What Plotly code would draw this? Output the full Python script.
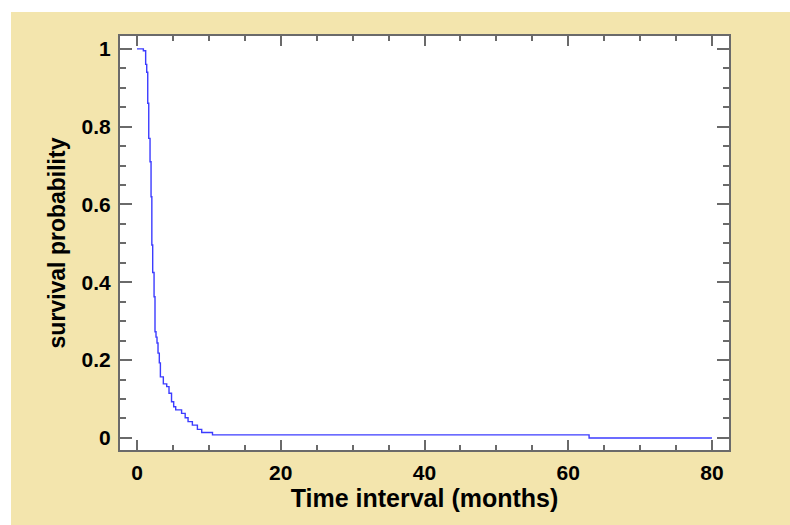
import plotly.graph_objects as go

# Kaplan-Meier step curve
time_months = [0, 0.88, 1.2, 1.35, 1.49, 1.63, 1.81, 1.95, 2.06, 2.18, 2.37, 2.5, 2.64,
               2.78, 2.92, 3.1, 3.25, 3.66, 4.13, 4.45, 4.8, 5.1, 5.38, 6.2, 6.7,
               7.1, 7.7, 8.4, 9.0, 10.5, 62.9, 80]
survival = [1.0, 0.995, 0.96, 0.94, 0.86, 0.77, 0.71, 0.62, 0.496, 0.425, 0.363, 0.273, 0.259,
            0.244, 0.218, 0.193, 0.157, 0.139, 0.132, 0.115, 0.093, 0.080, 0.072, 0.063, 0.052,
            0.042, 0.033, 0.022, 0.014, 0.008, 0.0, 0.0]

x_ticks = [0, 20, 40, 60, 80]
y_ticks = [0, 0.2, 0.4, 0.6, 0.8, 1]

cream = "#F3E5AD"
axis_grey = "#6a6a6a"
font_family = "Liberation Sans, Arial, sans-serif"

fig = go.Figure()
fig.add_trace(go.Scatter(
    x=time_months, y=survival, mode="lines", line_shape="hv",
    line=dict(color="#3c3cff", width=1.4), showlegend=False,
))

fig.update_layout(
    width=790, height=525,
    margin=dict(l=120, r=61, t=36, b=75),
    paper_bgcolor=cream, plot_bgcolor="white",
    font=dict(family=font_family, color="black"),
    xaxis=dict(
        range=[-2.37, 82.37], tickvals=x_ticks, ticks="inside", ticklen=10, tickwidth=1.5,
        tickcolor=axis_grey, showline=True, linecolor=axis_grey, linewidth=2, mirror="ticks",
        showgrid=False, zeroline=False,
        tickfont=dict(size=21, family=font_family, weight="bold", color="black"),
        ticklabelstandoff=3,
        minor=dict(dtick=5, ticks="inside", ticklen=5, tickwidth=1.5, tickcolor=axis_grey, showgrid=False),
        title=dict(text="<b>Time interval (months)</b>", font=dict(size=25, family=font_family), standoff=3),
    ),
    yaxis=dict(
        range=[-0.031, 1.033], tickvals=y_ticks, ticks="inside", ticklen=12, tickwidth=1.5,
        tickcolor=axis_grey, showline=True, linecolor=axis_grey, linewidth=2, mirror="ticks",
        showgrid=False, zeroline=False,
        tickfont=dict(size=21, family=font_family, weight="bold", color="black"),
        ticklabelstandoff=3,
        minor=dict(dtick=0.05, ticks="inside", ticklen=6, tickwidth=1.5, tickcolor=axis_grey, showgrid=False),
        title=dict(text="<b>survival probability</b>", font=dict(size=23, family=font_family), standoff=10),
    ),
    shapes=[
        # white page border at left and top of the reference image
        dict(type="rect", xref="paper", yref="paper", x0=-0.25, x1=-0.179, y0=-0.3, y1=1.2,
             fillcolor="white", line=dict(width=0), layer="above"),
        dict(type="rect", xref="paper", yref="paper", x0=-0.25, x1=1.2, y0=1.058, y1=1.2,
             fillcolor="white", line=dict(width=0), layer="above"),
    ],
)

fig.write_html(
    "out.html",
    config={"displayModeBar": False},
    post_script="document.body.style.margin='0';document.body.style.overflow='hidden';"
                "document.documentElement.style.overflow='hidden';",
)
